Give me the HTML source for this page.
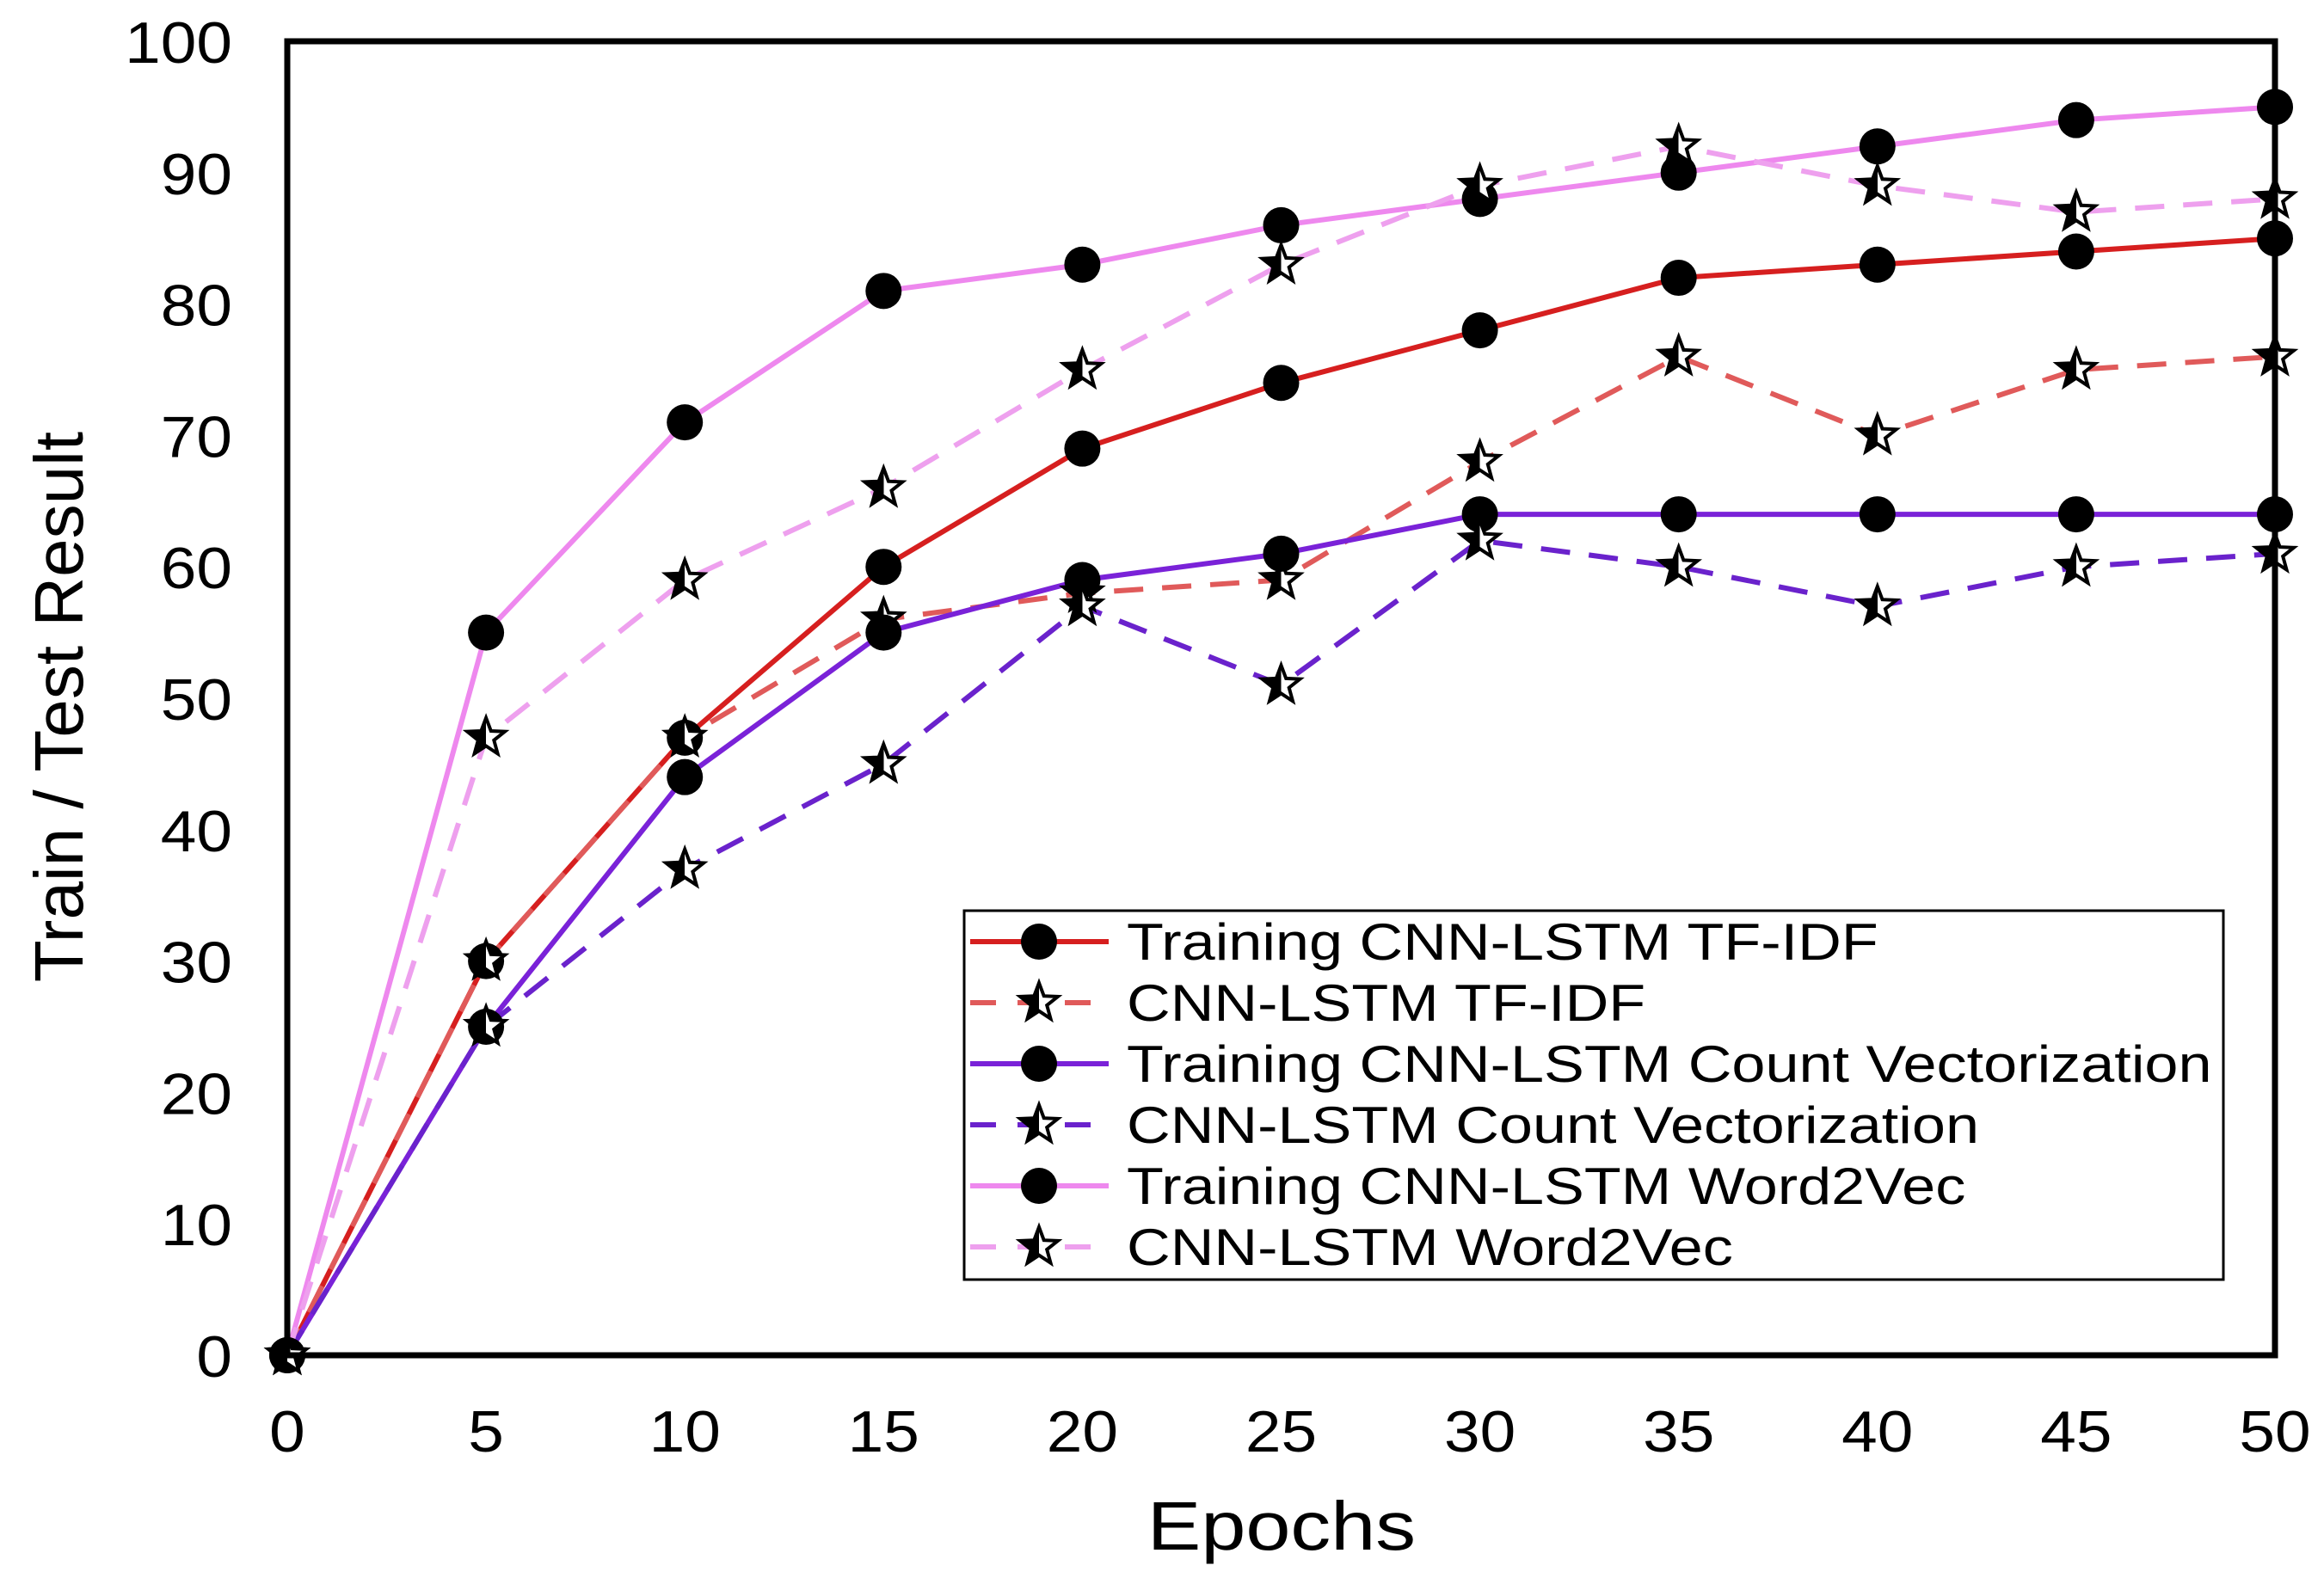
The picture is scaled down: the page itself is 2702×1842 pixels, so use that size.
<!DOCTYPE html>
<html><head><meta charset="utf-8"><style>html,body{margin:0;padding:0;background:#fff}svg{display:block}text{font-family:"Liberation Sans",sans-serif;fill:#000}</style></head>
<body>
<svg id="chart" width="2702" height="1842" viewBox="0 0 2702 1842" xmlns="http://www.w3.org/2000/svg">
<defs><linearGradient id="halfStar" x1="0" y1="0" x2="1" y2="0"><stop offset="0.5" stop-color="#000"/><stop offset="0.5" stop-color="#fff"/></linearGradient></defs>
<g id="series"></g>
<rect x="334" y="48" width="2311" height="1528" fill="none" stroke="#000" stroke-width="7"/>
<g id="ticks"></g>
<text id="xt" x="1490" y="1802" font-size="80" text-anchor="middle">Epochs</text>
<text id="yt" transform="translate(96,822) rotate(-90)" font-size="80" text-anchor="middle">Train / Test Result</text>
<g id="legend">
<rect x="1121" y="1059" width="1464" height="429" fill="#fff" stroke="#000" stroke-width="3"/>
</g>
</svg>
<script>
const epochs=[0,5,10,15,20,25,30,35,40,45,50];
const trainTfidf=[0,30,47,60,69,74,78,82,83,84,85];
const testTfidf=[0,30,47,56,58,59,68,76,70,75,76];
const trainCount=[0,25,44,55,59,61,64,64,64,64,64];
const testCount=[0,25,37,45,57,51,62,60,57,60,61];
const trainW2v=[0,55,71,81,83,86,88,90,92,94,95];
const testW2v=[0,47,59,66,75,83,89,92,89,87,88];
const xTicks=[0,5,10,15,20,25,30,35,40,45,50];
const yTicks=[0,10,20,30,40,50,60,70,80,90,100];
const seriesNames=["Training CNN-LSTM TF-IDF","CNN-LSTM TF-IDF","Training CNN-LSTM Count Vectorization","CNN-LSTM Count Vectorization","Training CNN-LSTM Word2Vec","CNN-LSTM Word2Vec"];
const NS="http://www.w3.org/2000/svg";
const L=334,R=2645,T=48,B=1576;
const xs=v=>L+(v-0)/(50-0)*(R-L);
const ys=v=>B-(v-0)/(100-0)*(B-T);
function mk(tag,attrs,parent){const e=document.createElementNS(NS,tag);for(const k in attrs)e.setAttribute(k,attrs[k]);parent.appendChild(e);return e;}
function stretch(e,f){const w=e.getComputedTextLength();e.setAttribute('textLength',(w*f).toFixed(1));e.setAttribute('lengthAdjust','spacingAndGlyphs');}
const gS=document.getElementById('series'),gT=document.getElementById('ticks'),gL=document.getElementById('legend');
function starPts(cx,cy,r){let p=[];for(let i=0;i<10;i++){const a=-Math.PI/2+i*Math.PI/5;const rr=i%2?r*0.42:r;p.push((cx+rr*Math.cos(a)).toFixed(1)+','+(cy+rr*Math.sin(a)).toFixed(1));}return p.join(' ');}
function marker(type,cx,cy,parent,name){
 if(type==='circle'){const c=mk('circle',{cx:cx,cy:cy,r:21,fill:'#000'},parent);
  
  }
 else{const s=mk('polygon',{points:starPts(cx,cy,23),fill:'url(#halfStar)',stroke:'#000','stroke-width':4},parent);
  
  }
}
const defs=[
 {d:trainTfidf,c:'#d61f1f',dash:null,m:'circle',n:'train-tfidf'},
 {d:testTfidf,c:'#e05a5a',dash:'34,22',m:'star',n:'test-tfidf'},
 {d:trainCount,c:'#7a22d8',dash:null,m:'circle',n:'train-count'},
 {d:testCount,c:'#6a22cc',dash:'34,22',m:'star',n:'test-count'},
 {d:trainW2v,c:'#ee88ee',dash:null,m:'circle',n:'train-word2vec'},
 {d:testW2v,c:'#eea0ee',dash:'34,22',m:'star',n:'test-word2vec'}];
defs.forEach((s,si)=>{
 const pts=s.d.map((v,i)=>xs(epochs[i])+','+ys(v)).join(' ');
 const pl=mk('polyline',{points:pts,fill:'none',stroke:s.c,'stroke-width':6},gS);
 if(s.dash)pl.setAttribute('stroke-dasharray',s.dash);
 
 
});
defs.forEach(s=>{s.d.forEach((v,i)=>marker(s.m,xs(epochs[i]),ys(v),gS,s.n+'-point'));});
xTicks.forEach(t=>{const e=mk('text',{x:xs(t),y:1688,'font-size':68,'text-anchor':'middle'},gT);e.textContent=t;
 
 
 stretch(e,1.1);});
yTicks.forEach(t=>{const e=mk('text',{x:270,y:ys(t)+25,'font-size':68,'text-anchor':'end'},gT);e.textContent=t;
 
 
 stretch(e,1.1);});
stretch(document.getElementById('xt'),1.17);
stretch(document.getElementById('yt'),1.0);
const rowY=[1095,1166,1237,1308,1379,1450];
defs.forEach((s,i)=>{
 const y=rowY[i];
 const g=mk('g',{},gL);
 
 
 const ln=mk('line',{x1:1128,y1:y,x2:1289,y2:y,stroke:s.c,'stroke-width':6},g);
 if(s.dash)ln.setAttribute('stroke-dasharray','30,25');
 marker(s.m,1208,y,g,'legend-marker');
 const t=mk('text',{x:1310,y:y+21,'font-size':60},g);t.textContent=seriesNames[i];
 stretch(t,1.17);
});
</script>
</body></html>
